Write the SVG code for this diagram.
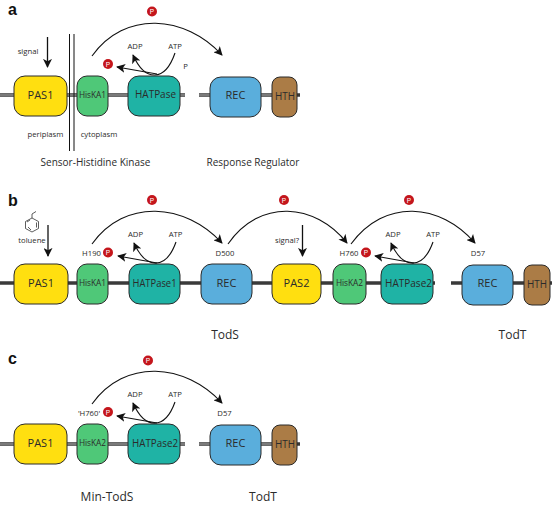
<svg xmlns="http://www.w3.org/2000/svg" width="553" height="505" viewBox="0 0 553 505">
<style>
text{font-family:"Open Sans","Noto Sans","Liberation Sans",sans-serif;fill:#2b2b2b;text-anchor:middle}
.s{font-size:7.7px}
.k{font-size:8.3px}
.m{font-size:10px}
.b{font-size:12px}
.d{font-size:11px}
.l{font-size:16px;font-weight:700;fill:#111;font-family:"Liberation Sans",sans-serif;text-anchor:start}
.box{stroke:#2a2a2a;stroke-width:1}
.pas{fill:#ffdf10}.his{fill:#4fc878}.hat{fill:#1fb3a5}.rec{fill:#5aaedc}.hth{fill:#ab7c46}
.bb{stroke:#3a3a3a;stroke-width:3.4;fill:none}
.bbi{stroke:#dddddd;stroke-width:.8;fill:none}
.c{stroke:#111;stroke-width:1.1;fill:none;marker-end:url(#a)}
.ar{stroke:#111;stroke-width:1.3;fill:none;marker-end:url(#a)}
.pc{fill:#c4161c}
.pt{font-size:6.5px;fill:#fff;font-family:"Liberation Sans",sans-serif}
</style>
<defs>
<marker id="a" viewBox="0 0 10 10" refX="9" refY="5" markerWidth="9" markerHeight="9" markerUnits="userSpaceOnUse" orient="auto"><path d="M0 0L10 5L0 10L2.500 5Z" fill="#111"/></marker>
</defs>
<g id="connectors">
<path class="bb" d="M0 95H185M199 95H300M0 283H435M451 283H552M0 444H185M199 444H300"/>
<path class="bbi" d="M0 95H185M199 95H296M0 444H185M199 444H296"/>
<path class="ar" d="M47.500 37V67"/>
<path class="ar" d="M48 225V256"/>
<path class="ar" d="M302.500 225V256"/>
<path class="c" d="M92 56C125 10 185 15 222 55"/>
<path class="c" d="M92 244C125 198 185 203 222 243"/>
<path class="c" d="M228 244C260 198 315 203 347 243"/>
<path class="c" d="M351 244C385 198 440 203 475 243"/>
<path class="c" d="M92 404C125 358 185 363 222 403"/>
<path class="c" d="M175 53C165 82 145 82 133 55"/>
<path class="c" d="M157 74L117 67"/>
<path class="c" d="M176 242C166 270 146 270 134 243"/>
<path class="c" d="M157 263L118 256"/>
<path class="c" d="M433 242C423 270 403 270 391 243"/>
<path class="c" d="M414 263L375 256"/>
<path class="c" d="M175 402C165 430 145 430 133 403"/>
<path class="c" d="M157 423L117 416"/>
</g>
<g id="panel-a">
<text class="l" x="8" y="15">a</text>
<g id="a-pas1"><rect class="box pas" x="14" y="76" width="53" height="40" rx="11"/><text class="d" x="40.500" y="99">PAS1</text></g>
<path id="membrane" d="M69.500 34V151M74 34V151" stroke="#111" stroke-width="1" fill="none"/>
<g id="a-hiska1"><rect class="box his" x="77" y="76" width="31" height="40" rx="10"/><text class="k" x="92.500" y="97.500">HisKA1</text></g>
<g id="a-hatpase"><rect class="box hat" x="128" y="76" width="52" height="40" rx="11"/><text class="d" x="155.500" y="98" textLength="41" lengthAdjust="spacingAndGlyphs">HATPase</text></g>
<g id="a-rec"><rect class="box rec" x="210" y="77" width="51" height="40" rx="11"/><text class="d" x="235.500" y="99">REC</text></g>
<g id="a-hth"><rect class="box hth" x="272" y="77" width="25" height="40" rx="8"/><text class="d" x="285" y="100" textLength="20" lengthAdjust="spacingAndGlyphs">HTH</text></g>
<g id="a-p1"><circle class="pc" cx="152" cy="11.500" r="5"/><text class="pt" x="152" y="14">P</text></g>
<g id="a-p2"><circle class="pc" cx="108" cy="64" r="5"/><text class="pt" x="108" y="66.500">P</text></g>
<text class="s" x="28" y="54">signal</text>
<text class="s" x="135" y="49">ADP</text>
<text class="s" x="175" y="49">ATP</text>
<text class="s" x="185.500" y="69">P</text>
<text class="s" x="45.500" y="137">periplasm</text>
<text class="s" x="99" y="137">cytoplasm</text>
<text class="m" x="95.500" y="166">Sensor-Histidine Kinase</text>
<text class="m" x="253" y="166">Response Regulator</text>
</g>
<g id="panel-b">
<text class="l" x="8" y="206">b</text>
<g id="toluene-ring" fill="none" stroke="#333" stroke-width=".8"><path d="M32 218L38.500 221.500V228.500L32 232L25.500 228.500V221.500ZM32 218V214L36 211.500M30 220L27 222M36.500 222.500V227.500M28 227L31 230"/></g>
<text class="s" x="32" y="243">toluene</text>
<g id="b-pas1"><rect class="box pas" x="14" y="264" width="54" height="40" rx="11"/><text class="d" x="41" y="287">PAS1</text></g>
<g id="b-hiska1"><rect class="box his" x="77" y="264" width="31" height="40" rx="10"/><text class="k" x="92.500" y="286">HisKA1</text></g>
<g id="b-hatpase1"><rect class="box hat" x="129" y="264" width="51" height="40" rx="11"/><text class="d" x="154.500" y="287" textLength="44" lengthAdjust="spacingAndGlyphs">HATPase1</text></g>
<g id="b-rec"><rect class="box rec" x="201" y="264" width="51" height="40" rx="11"/><text class="d" x="226.500" y="287">REC</text></g>
<g id="b-pas2"><rect class="box pas" x="272" y="264" width="49" height="40" rx="11"/><text class="d" x="296.500" y="287">PAS2</text></g>
<g id="b-hiska2"><rect class="box his" x="333" y="264" width="33" height="40" rx="10"/><text class="k" x="349.500" y="286">HisKA2</text></g>
<g id="b-hatpase2"><rect class="box hat" x="381" y="264" width="52" height="40" rx="11"/><text class="d" x="408.500" y="287" textLength="47" lengthAdjust="spacingAndGlyphs">HATPase2</text></g>
<g id="b-rec2"><rect class="box rec" x="462" y="265" width="51" height="40" rx="11"/><text class="d" x="487.500" y="287">REC</text></g>
<g id="b-hth"><rect class="box hth" x="524" y="265" width="26" height="40" rx="8"/><text class="d" x="537" y="288" textLength="20" lengthAdjust="spacingAndGlyphs">HTH</text></g>
<g id="b-p1"><circle class="pc" cx="152" cy="200" r="5"/><text class="pt" x="152" y="202.500">P</text></g>
<g id="b-p2"><circle class="pc" cx="284" cy="200" r="5"/><text class="pt" x="284" y="202.500">P</text></g>
<g id="b-p3"><circle class="pc" cx="409" cy="200" r="5"/><text class="pt" x="409" y="202.500">P</text></g>
<g id="b-p4"><circle class="pc" cx="108" cy="252.500" r="5"/><text class="pt" x="108" y="255">P</text></g>
<g id="b-p5"><circle class="pc" cx="366" cy="252.500" r="5"/><text class="pt" x="366" y="255">P</text></g>
<text class="s" x="91.500" y="256">H190</text>
<text class="s" x="225" y="256">D500</text>
<text class="s" x="349" y="256">H760</text>
<text class="s" x="478" y="255.500">D57</text>
<text class="s" x="135.500" y="237">ADP</text>
<text class="s" x="175.500" y="237">ATP</text>
<text class="s" x="393" y="237">ADP</text>
<text class="s" x="433" y="237">ATP</text>
<text class="s" x="287" y="243">signal?</text>
<text class="b" x="225" y="339">TodS</text>
<text class="b" x="512.500" y="339">TodT</text>
</g>
<g id="panel-c">
<text class="l" x="8" y="364">c</text>
<g id="c-pas1"><rect class="box pas" x="14" y="424" width="53" height="40" rx="11"/><text class="d" x="40.500" y="447">PAS1</text></g>
<g id="c-hiska2"><rect class="box his" x="77" y="424" width="31" height="40" rx="10"/><text class="k" x="92.500" y="446">HisKA2</text></g>
<g id="c-hatpase2"><rect class="box hat" x="128" y="424" width="52" height="40" rx="11"/><text class="d" x="155" y="447" textLength="46" lengthAdjust="spacingAndGlyphs">HATPase2</text></g>
<g id="c-rec"><rect class="box rec" x="210" y="425" width="51" height="40" rx="11"/><text class="d" x="235.500" y="447">REC</text></g>
<g id="c-hth"><rect class="box hth" x="272" y="425" width="25" height="40" rx="8"/><text class="d" x="285" y="448" textLength="20" lengthAdjust="spacingAndGlyphs">HTH</text></g>
<g id="c-p1"><circle class="pc" cx="148" cy="360.500" r="5"/><text class="pt" x="148" y="363">P</text></g>
<g id="c-p2"><circle class="pc" cx="108" cy="412" r="5"/><text class="pt" x="108" y="414.500">P</text></g>
<text class="s" x="89" y="416">'H760'</text>
<text class="s" x="224.500" y="416">D57</text>
<text class="s" x="135" y="397">ADP</text>
<text class="s" x="175" y="397">ATP</text>
<text class="b" x="107" y="501">Min-TodS</text>
<text class="b" x="263" y="501">TodT</text>
</g>
</svg>
